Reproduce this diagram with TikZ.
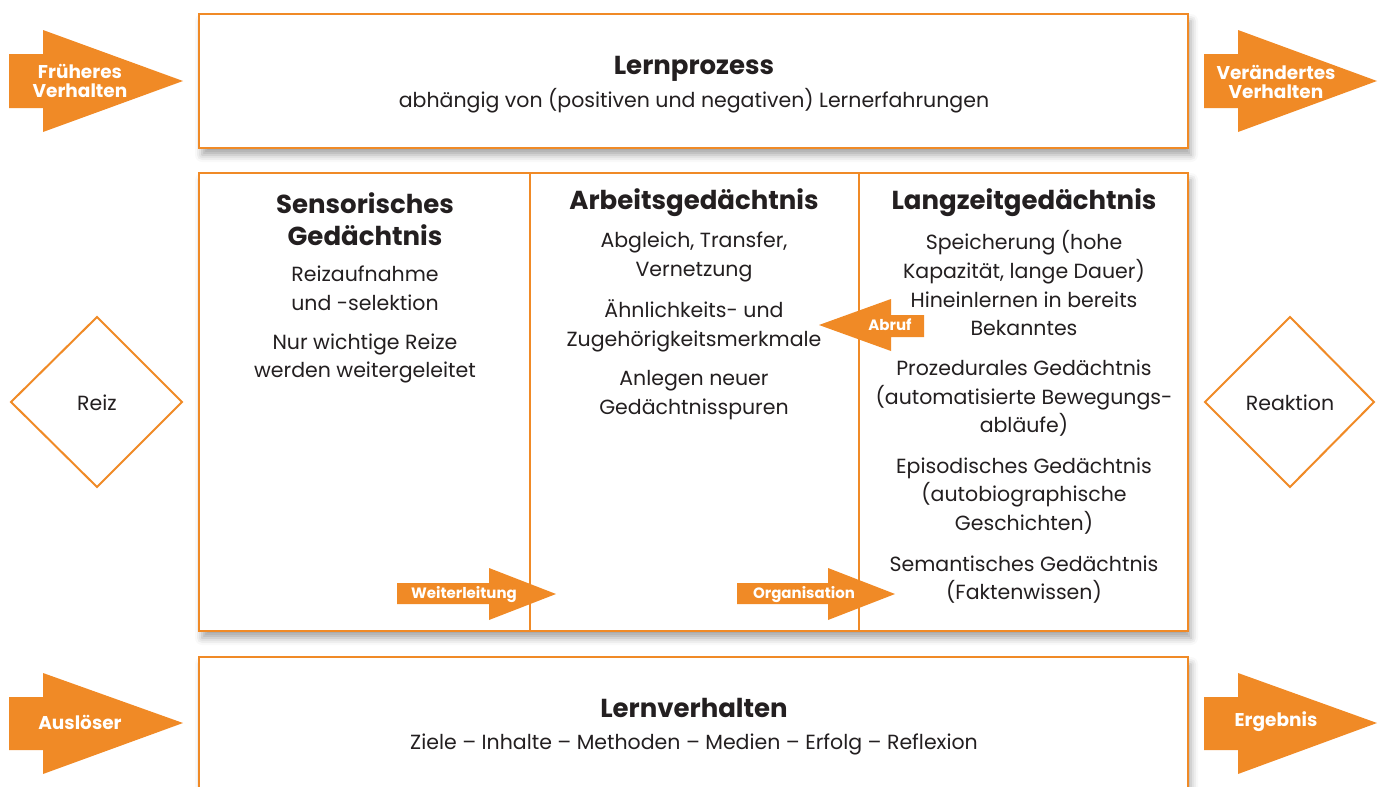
\documentclass[tikz,border=0pt]{standalone}
\usepackage{fontspec}
\setmainfont{Poppins}
\usetikzlibrary{shadows.blur}
\definecolor{org}{RGB}{240,138,38}
\definecolor{txt}{RGB}{35,31,32}
\begin{document}
\begin{tikzpicture}[x=1pt,y=-1pt,
  box/.style={draw=org, line width=2.5pt, fill=white, inner sep=0pt,
    blur shadow={shadow xshift=3pt, shadow yshift=-7pt, shadow blur radius=7pt, shadow opacity=35}},
  body/.style={text=txt, font=\fontsize{20.5}{28.5}\selectfont, align=center, inner sep=0pt},
  head/.style={text=txt, font=\fontsize{26}{32}\selectfont\bfseries, align=center, inner sep=0pt},
  arrowfill/.style={fill=org, draw=none},
  alabel/.style={text=white, font=\fontsize{18.5}{24}\selectfont\bfseries, align=center, inner sep=0pt},
  slabel/.style={text=white, font=\fontsize{15}{16}\selectfont\bfseries, inner sep=0pt},
  dia/.style={draw=org, line width=2pt, fill=white},
  divider/.style={draw=org, line width=2pt}]
\useasboundingbox (0,0) rectangle (1382,787);
\clip (0,0) rectangle (1382,787);
% boxes
\node[box, minimum width=989pt, minimum height=134pt] (top) at (693.5,81) {};
\node[box, minimum width=989pt, minimum height=458pt] (mid) at (693.5,402) {};
\node[box, minimum width=989pt, minimum height=163pt] (bot) at (693.5,738.5) {};
\coordinate (d1t) at (530,173); \coordinate (d1b) at (530,631);
\coordinate (d2t) at (859,173); \coordinate (d2b) at (859,631);
\draw[divider] (d1t) -- (d1b);
\draw[divider] (d2t) -- (d2b);
% big arrows
\fill[arrowfill] (9,54) -- (43,54) -- (43,30) -- (183,81) -- (43,132) -- (43,108) -- (9,108) -- cycle;
\fill[arrowfill] (1204,54) -- (1238,54) -- (1238,30) -- (1377,81) -- (1238,132) -- (1238,108) -- (1204,108) -- cycle;
\fill[arrowfill] (9,697) -- (43,697) -- (43,673) -- (183,723) -- (43,774) -- (43,750) -- (9,750) -- cycle;
\fill[arrowfill] (1204,697) -- (1238,697) -- (1238,673) -- (1377,723) -- (1238,774) -- (1238,750) -- (1204,750) -- cycle;
% small arrows
\fill[arrowfill] (397,583) -- (489,583) -- (489,568) -- (556,594) -- (489,620) -- (489,604) -- (397,604) -- cycle;
\fill[arrowfill] (737,583) -- (828,583) -- (828,568) -- (895,594) -- (828,620) -- (828,604) -- (737,604) -- cycle;
\fill[arrowfill] (924,315) -- (891,315) -- (891,299) -- (819,325) -- (891,351) -- (891,337) -- (924,337) -- cycle;
% diamonds
\draw[dia] (11,402) -- (97,317) -- (182,402) -- (97,487) -- cycle;
\draw[dia] (1205,402) -- (1290,317) -- (1374,402) -- (1290,487) -- cycle;
\node[body] (reiz) at (97,403) {Reiz};
\node[body] (reaktion) at (1290,403) {Reaktion};
% arrow labels
\node[alabel] (frueh) at (80,80.5) {Früheres\\[-5pt]Verhalten};
\node[alabel] (veraend) at (1276,82) {Verändertes\\[-5pt]Verhalten};
\node[alabel] (ausl) at (80,722) {Auslöser};
\node[alabel] (erg) at (1276,722) {Ergebnis};
\node[slabel] (weiter) at (464,595) {Weiterleitung};
\node[slabel] (organ) at (804,595) {Organisation};
\node[slabel] (abruf) at (890,325) {Abruf};
% top box text
\node[head] (lp) at (694,69) {Lernprozess};
\node[body] (lpt) at (694,101) {abhängig von (positiven und negativen) Lernerfahrungen};
% column 1
\node[head] (c1h) at (365,219) {Sensorisches\\Gedächtnis};
\node[body] (c1a) at (365,288.5) {Reizaufnahme\\und -selektion};
\node[body] (c1b) at (365,358.5) {Nur wichtige Reize\\werden weitergeleitet};
% column 2
\node[head] (c2h) at (694,203) {Arbeitsgedächtnis};
\node[body] (c2a) at (694,257) {Abgleich, Transfer,\\Vernetzung};
\node[body] (c2b) at (694,326) {Ähnlichkeits- und\\Zugehörigkeitsmerkmale};
\node[body] (c2c) at (694,395) {Anlegen neuer\\Gedächtnisspuren};
% column 3
\node[head] (c3h) at (1024,203) {Langzeitgedächtnis};
\node[body] (c3a) at (1024,257) {Speicherung (hohe\\Kapazität, lange Dauer)};
\node[body] (c3b) at (1024,314) {Hineinlernen in bereits\\Bekanntes};
\node[body] (c3c) at (1024,398.5) {Prozedurales Gedächtnis\\(automatisierte Bewegungs-\\abläufe)};
\node[body] (c3d) at (1024,496) {Episodisches Gedächtnis\\(autobiographische\\Geschichten)};
\node[body] (c3e) at (1024,579.5) {Semantisches Gedächtnis\\(Faktenwissen)};
% bottom box text
\node[head] (lv) at (694,708) {Lernverhalten};
\node[body] (lvt) at (694,744) {Ziele – Inhalte – Methoden – Medien – Erfolg – Reflexion};
\end{tikzpicture}
\end{document}
